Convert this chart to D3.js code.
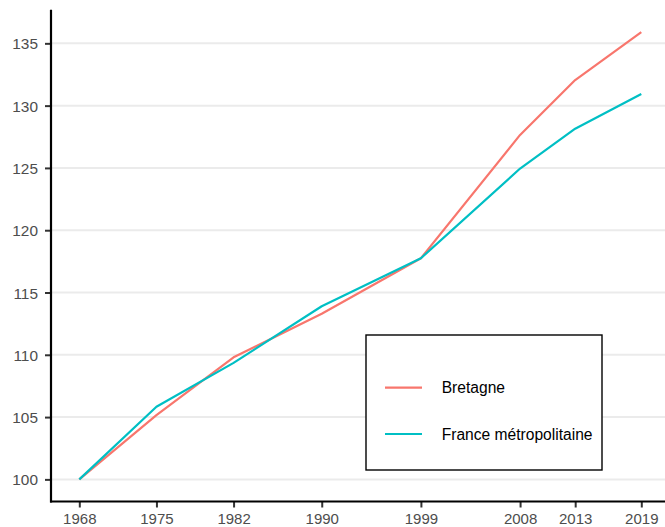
<!DOCTYPE html>
<html><head><meta charset="utf-8">
<script src="https://cdn.jsdelivr.net/npm/d3@7"></script>
<style>body{margin:0;background:#fff}svg{display:block}</style>
</head><body>
<script>
const years = [1968, 1975, 1982, 1990, 1999, 2008, 2013, 2019];
const bretagne = [100, 105.15, 109.8, 113.3, 117.75, 127.65, 132.05, 135.9];
const france = [100, 105.83, 109.35, 113.9, 117.75, 124.95, 128.15, 130.93];
const seriesNames = ["Bretagne", "France métropolitaine"];
const seriesColors = ["#F8766D", "#00BFC4"];
const yTicks = [100, 105, 110, 115, 120, 125, 130, 135];

const W = 665, H = 527;
const svg = d3.select("body").append("svg").attr("width", W).attr("height", H);

const x = d3.scaleLinear().domain([1965.45, 2021.55]).range([51.2, 669.4]);
const y = d3.scaleLinear().domain([98.2, 137.7]).range([501.8, 9.7]);

// gridlines
svg.append("g").selectAll("line").data(yTicks).join("line")
  .attr("x1", 51).attr("x2", W).attr("y1", d => y(d)).attr("y2", d => y(d))
  .attr("stroke", "#EBEBEB").attr("stroke-width", 2);

const series = [bretagne, france];
const line = d3.line().x((d, i) => x(years[i])).y(d => y(d));
series.forEach((s, k) => {
  svg.append("path").datum(s).attr("d", line).attr("fill", "none")
    .attr("stroke", seriesColors[k]).attr("stroke-width", 2.2).attr("stroke-linejoin", "round");
});

// axes
const yAxis = d3.axisLeft(y).tickValues(yTicks).tickSize(6).tickPadding(7);
const gy = svg.append("g").attr("transform", "translate(51,0)").call(yAxis);
const xAxis = d3.axisBottom(x).tickValues(years).tickFormat(d3.format("d")).tickSize(6).tickPadding(6);
const gx = svg.append("g").attr("transform", "translate(0,501.5)").call(xAxis);
[gx, gy].forEach(g => {
  g.select(".domain").remove();
  g.selectAll(".tick line").attr("stroke", "#333333").attr("stroke-width", 2);
  g.selectAll(".tick text").attr("fill", "#4D4D4D").style("font-family", "'Liberation Sans', Arial, sans-serif").style("font-size", "15.4px");
});
gx.selectAll(".tick text").attr("dy", null).attr("y", 22).style("font-size", "15px");
gy.selectAll(".tick text").attr("dy", "0.36em");

svg.append("line").attr("x1", 51).attr("x2", 51).attr("y1", 9.7).attr("y2", 502.6)
  .attr("stroke", "#000").attr("stroke-width", 2.2);
svg.append("line").attr("x1", 50).attr("x2", W).attr("y1", 501.5).attr("y2", 501.5)
  .attr("stroke", "#000").attr("stroke-width", 2.2);

// legend
const lg = svg.append("g");
lg.append("rect").attr("x", 366).attr("y", 335).attr("width", 236).attr("height", 135)
  .attr("fill", "#fff").attr("stroke", "#000").attr("stroke-width", 1.4);
const ly = [387.7, 434];
seriesNames.forEach((n, k) => {
  lg.append("line").attr("x1", 385).attr("x2", 422).attr("y1", ly[k]).attr("y2", ly[k])
    .attr("stroke", seriesColors[k]).attr("stroke-width", 2.2);
  lg.append("text").attr("x", 441.7).attr("y", ly[k]).attr("dy", "0.36em")
    .style("font-family", "'Liberation Sans', Arial, sans-serif").style("font-size", "15.6px")
    .attr("fill", "#000").text(n);
});
</script>
</body></html>
